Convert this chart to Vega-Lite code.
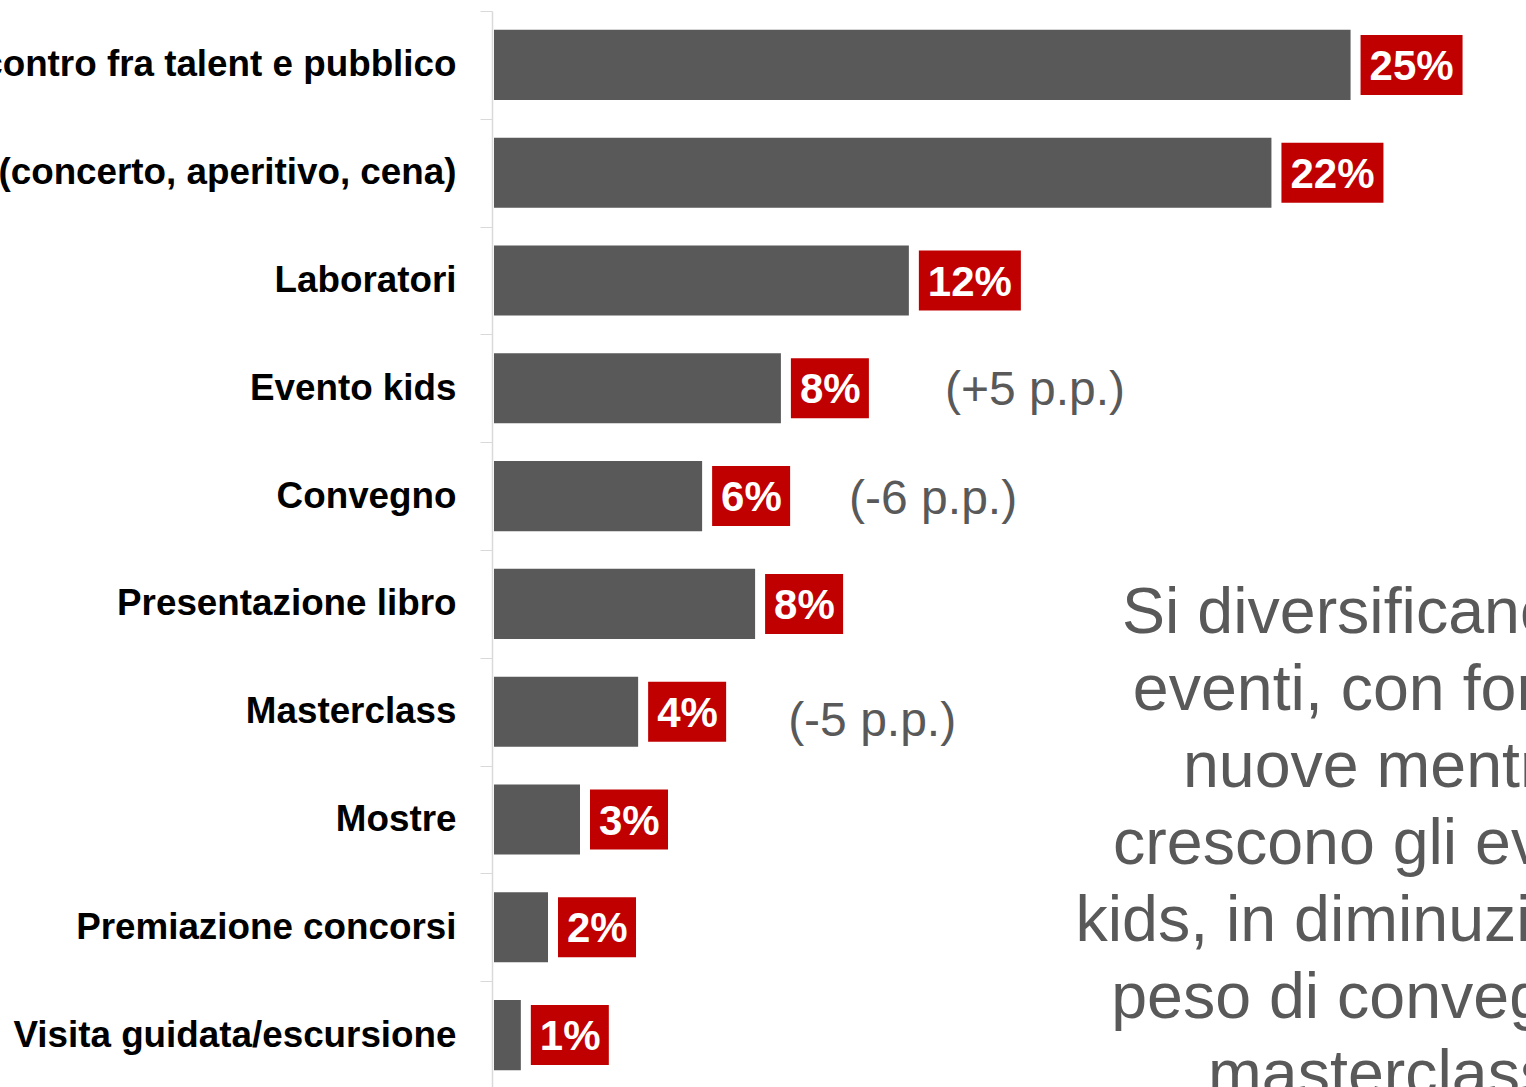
{
  "$schema": "https://vega.github.io/schema/vega-lite/v6.json",
  "autosize": {"type": "none"},
  "padding": {"left": 494, "top": 11, "right": 0, "bottom": 0},
  "width": 1032,
  "height": 1078,
  "background": "white",
  "config": {"view": {"stroke": null}, "font": "Liberation Sans"},
  "data": {
    "values": [
      {"category": "Incontro fra talent e pubblico", "value": 24.9, "label": "25%", "note": ""},
      {"category": "Intrattenimento (concerto, aperitivo, cena)\u2009", "value": 22.6, "label": "22%", "note": ""},
      {"category": "Laboratori", "value": 12.06, "label": "12%", "note": ""},
      {"category": "Evento kids", "value": 8.34, "label": "8%", "note": "(+5 p.p.)"},
      {"category": "Convegno", "value": 6.05, "label": "6%", "note": "(-6 p.p.)"},
      {"category": "Presentazione libro", "value": 7.59, "label": "8%", "note": ""},
      {"category": "Masterclass", "value": 4.19, "label": "4%", "note": "(-5 p.p.)"},
      {"category": "Mostre", "value": 2.5, "label": "3%", "note": ""},
      {"category": "Premiazione concorsi", "value": 1.57, "label": "2%", "note": ""},
      {"category": "Visita guidata/escursione", "value": 0.78, "label": "1%", "note": ""}
    ]
  },
  "encoding": {
    "y": {
      "field": "category",
      "type": "nominal",
      "sort": null,
      "scale": {"paddingInner": 0.35, "paddingOuter": 0.175},
      "axis": {
        "title": null,
        "offset": 2,
        "bandPosition": 0,
        "tickOffset": -18.9,
        "labelOffset": 18.9,
        "tickSize": 12,
        "tickColor": "#d9d9d9",
        "domainColor": "#d9d9d9",
        "domainWidth": 1.5,
        "labelPadding": 24,
        "labelFontSize": 36.8,
        "labelFontWeight": "bold",
        "labelColor": "#000000",
        "labelFont": "Liberation Sans",
        "labelLimit": 0
      }
    }
  },
  "layer": [
    {
      "mark": {"type": "bar", "color": "#595959"},
      "encoding": {
        "x": {"field": "value", "type": "quantitative", "scale": {"domain": [0, 30], "nice": false}, "axis": null}
      }
    },
    {
      "transform": [{"filter": "length(datum.label) >= 3"}],
      "mark": {"type": "bar", "color": "#C00000", "orient": "horizontal", "height": 60, "xOffset": 10, "x2Offset": 112},
      "encoding": {
        "x": {"field": "value", "type": "quantitative"},
        "x2": {"field": "value"}
      }
    },
    {
      "transform": [{"filter": "length(datum.label) < 3"}],
      "mark": {"type": "bar", "color": "#C00000", "orient": "horizontal", "height": 60, "xOffset": 10, "x2Offset": 88},
      "encoding": {
        "x": {"field": "value", "type": "quantitative"},
        "x2": {"field": "value"}
      }
    },
    {
      "mark": {"type": "text", "align": "left", "baseline": "middle", "dx": 19, "dy": 2, "fontSize": 42, "fontWeight": "bold", "color": "#FFFFFF", "font": "Liberation Sans"},
      "encoding": {
        "x": {"field": "value", "type": "quantitative"},
        "text": {"field": "label"}
      }
    },
    {
      "transform": [{"filter": "datum.category == 'Evento kids'"}],
      "mark": {"type": "text", "align": "left", "baseline": "middle", "dx": 164, "dy": 3, "fontSize": 48, "color": "#595959", "font": "Liberation Sans"},
      "encoding": {
        "x": {"field": "value", "type": "quantitative"},
        "text": {"field": "note"}
      }
    },
    {
      "transform": [{"filter": "datum.category == 'Convegno'"}],
      "mark": {"type": "text", "align": "left", "baseline": "middle", "dx": 147, "dy": 4, "fontSize": 48, "color": "#595959", "font": "Liberation Sans"},
      "encoding": {
        "x": {"field": "value", "type": "quantitative"},
        "text": {"field": "note"}
      }
    },
    {
      "transform": [{"filter": "datum.category == 'Masterclass'"}],
      "mark": {"type": "text", "align": "left", "baseline": "middle", "dx": 150, "dy": 10, "fontSize": 48, "color": "#595959", "font": "Liberation Sans"},
      "encoding": {
        "x": {"field": "value", "type": "quantitative"},
        "text": {"field": "note"}
      }
    },
    {
      "data": {"values": [{"lines": ["Si diversificano gli", "eventi, con forme", "nuove mentre", "crescono gli eventi", "kids, in diminuzione il", "peso di convegni e", "masterclass"]}]},
      "mark": {"type": "text", "align": "center", "baseline": "alphabetic", "dy": 29, "fontSize": 64.5, "lineHeight": 77, "color": "#595959", "font": "Liberation Sans"},
      "encoding": {
        "x": {"datum": 25.76, "type": "quantitative"},
        "y": {"datum": "Presentazione libro", "type": "nominal"},
        "text": {"field": "lines"}
      }
    }
  ]
}
